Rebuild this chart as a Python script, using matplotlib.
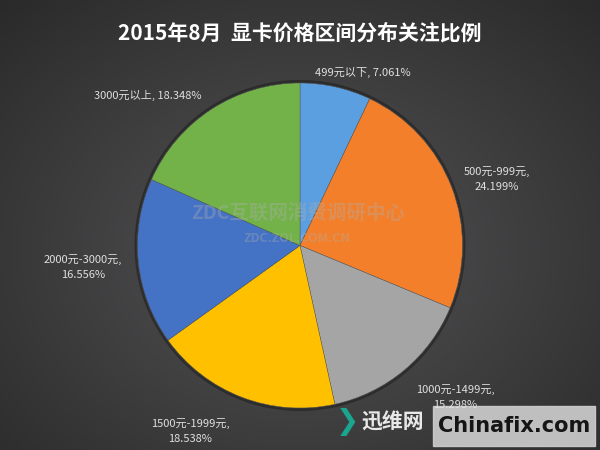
import numpy as np
import matplotlib
matplotlib.use("Agg")
import matplotlib.pyplot as plt
from matplotlib.patches import Circle

plt.rcParams['font.family'] = ['Noto Sans CJK SC', 'DejaVu Sans']

title = "2015年8月  显卡价格区间分布关注比例"
categories = ["499元以下", "500元-999元", "1000元-1499元", "1500元-1999元", "2000元-3000元", "3000元以上"]
values = [7.061, 24.199, 15.298, 18.538, 16.556, 18.348]
colors = ["#5B9FE0", "#F37F2A", "#A5A5A5", "#FFC000", "#4472C4", "#72B249"]
label_texts = ["499元以下, 7.061%", "500元-999元,\n24.199%", "1000元-1499元,\n15.298%",
               "1500元-1999元,\n18.538%", "2000元-3000元,\n16.556%", "3000元以上, 18.348%"]
label_pos = [(363, 72), (497, 179), (455, 397), (190, 431), (83, 267), (148, 95)]

W, H = 600, 450
fig = plt.figure(figsize=(6, 4.5), dpi=100)

# background radial gradient
bg = fig.add_axes([0, 0, 1, 1])
yy, xx = np.mgrid[0:H, 0:W]
d = np.sqrt(((xx - 300) / 420.0) ** 2 + ((yy - 250) / 330.0) ** 2)
lum = 0.33 - 0.16 * np.clip(d, 0, 1.2)
img = np.dstack([lum, lum, lum * 1.02])
bg.imshow(np.clip(img, 0, 1), extent=[0, W, H, 0], aspect='auto')
bg.set_xlim(0, W); bg.set_ylim(H, 0)
bg.axis('off')

# pie
cx, cy, r = 300, 245.5, 162.5
ax = fig.add_axes([(cx - r) / W, (H - cy - r) / H, 2 * r / W, 2 * r / H])
ax.add_patch(Circle((0, 0), 1.015, color='#1a1a1a', alpha=0.4, zorder=0, clip_on=False))
ax.pie(values, colors=colors, startangle=90, counterclock=False, radius=1.0,
       wedgeprops=dict(edgecolor='#555555', linewidth=0.3, clip_on=False))
ax.set_xlim(-1.0, 1.0); ax.set_ylim(-1.0, 1.0)
ax.set_aspect('equal')
ax.axis('off')

# overlay axes in pixel coords
ov = fig.add_axes([0, 0, 1, 1], facecolor='none')
ov.set_xlim(0, W); ov.set_ylim(H, 0)
ov.axis('off')

ov.text(300, 33, title, color='white', fontsize=15, fontweight='bold', ha='center', va='center')
for txt, (x, y) in zip(label_texts, label_pos):
    ov.text(x, y, txt, color='#e0e0e0', fontsize=8, ha='center', va='center', linespacing=1.7)

# watermarks
ov.text(298, 213, "ZDC互联网消费调研中心", color='#b0b0b0', alpha=0.35, fontsize=14,
        fontweight='bold', ha='center', va='center')
ov.text(297, 238, "ZDC.ZOL.COM.CN", color='#b0b0b0', alpha=0.35, fontsize=9,
        fontweight='bold', ha='center', va='center')

ov.text(347, 422, "❯", color='#1aa58e', fontsize=20, fontweight='bold', ha='center', va='center',
        family=['DejaVu Sans'])
ov.text(393, 422, "迅维网", color='#e8e8e8', fontsize=15, fontweight='bold', ha='center', va='center')
ov.add_patch(plt.Rectangle((433, 406), 162, 40, color='#cfcfcf', alpha=0.9))
ov.text(514, 426, "Chinafix.com", color='#151515', fontsize=15, fontweight='bold',
        ha='center', va='center', family=['DejaVu Sans'])

fig.savefig("out.png", dpi=100)
